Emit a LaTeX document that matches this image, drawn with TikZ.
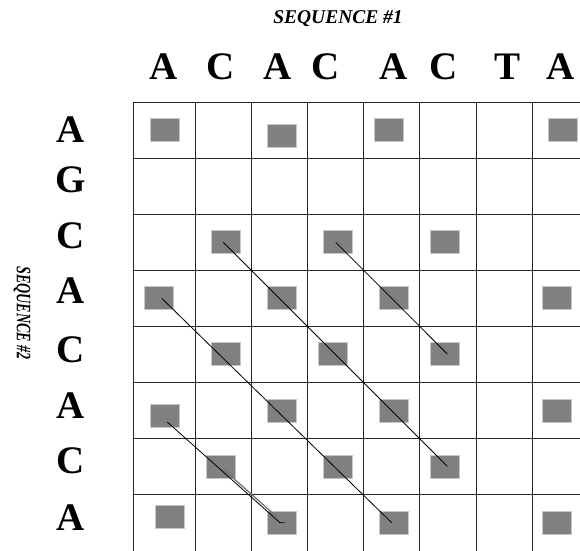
\documentclass[tikz,border=0pt]{standalone}
\usepackage{fontspec}
\setmainfont{Liberation Serif}
\begin{document}
\begin{tikzpicture}[x=1pt,y=-1pt,
  gridline/.style={draw=black!85,line width=1pt},
  hit/.style={fill=black!50,draw=black!22,line width=0.8pt,minimum width=29pt,minimum height=23pt,inner sep=0pt},
  base/.style={font=\fontsize{39}{39}\selectfont\bfseries,anchor=base,inner sep=0pt},
  trace/.style={draw=black,line width=0.8pt},
  title/.style={font=\fontsize{19.5}{20}\selectfont\bfseries\itshape,inner sep=0pt}]
\useasboundingbox (0,0) rectangle (580,550);
\clip (0,0) rectangle (580,550);
\fill[white] (0,0) rectangle (580,550);
% grid
\foreach \xx in {133,195,251,307,363,419,476,532,588}
  \draw[gridline] (\xx,102) -- (\xx,560);
\foreach \yy in {102,158,214,270,326,382,438,494,553}
  \draw[gridline] (133,\yy) -- (600,\yy);
% titles
\node[title,anchor=base] (s1) at (338,23) {SEQUENCE \#1};
\node[title,rotate=-90] (s2) at (22,313) {\scalebox{0.72}[1.05]{SEQUENCE \#2}};
% top sequence
\node[base] (t1) at (164,79) {A};
\node[base] (t2) at (221,79) {C};
\node[base] (t3) at (278,79) {A};
\node[base] (t4) at (326,79) {C};
\node[base] (t5) at (394,79) {A};
\node[base] (t6) at (444,79) {C};
\node[base] (t7) at (507,79) {T};
\node[base] (t8) at (561,79) {A};
% left sequence
\node[base] (l1) at (71,142) {A};
\node[base] (l2) at (71,192) {G};
\node[base] (l3) at (71,248) {C};
\node[base] (l4) at (71,303) {A};
\node[base] (l5) at (71,362) {C};
\node[base] (l6) at (71,418) {A};
\node[base] (l7) at (71,473) {C};
\node[base] (l8) at (71,530) {A};
% match squares
\node[hit] (m01) at (164.5,129.5) {};
\node[hit] (m03) at (282,135.5) {};
\node[hit] (m05) at (388.7,129.5) {};
\node[hit] (m08) at (562.8,130) {};
\node[hit] (m22) at (226,242) {};
\node[hit] (m24) at (338,242) {};
\node[hit] (m26) at (444.7,242) {};
\node[hit] (m31) at (158.7,298) {};
\node[hit] (m33) at (282,298) {};
\node[hit] (m35) at (394.3,298) {};
\node[hit] (m38) at (557.2,298.3) {};
\node[hit] (m42) at (226,354) {};
\node[hit] (m44) at (332.5,354) {};
\node[hit] (m46) at (444.7,354) {};
\node[hit] (m51) at (164.5,416) {};
\node[hit] (m53) at (282,410.5) {};
\node[hit] (m55) at (394.3,410.5) {};
\node[hit] (m58) at (557,410.5) {};
\node[hit] (m62) at (220.5,466.7) {};
\node[hit] (m64) at (338,466.7) {};
\node[hit] (m66) at (444.7,466.7) {};
\node[hit] (m71) at (169.5,516.5) {};
\node[hit] (m73) at (282,522.5) {};
\node[hit] (m75) at (394.3,522.5) {};
\node[hit] (m78) at (557,522.5) {};
% diagonal traces
\coordinate (a1) at (223.3,242.3);
\coordinate (a2) at (447.3,466.3);
\coordinate (b1) at (335.7,242.3);
\coordinate (b2) at (447.3,354);
\coordinate (c1) at (161.7,298.3);
\coordinate (c2) at (391.7,522.7);
\coordinate (d1) at (167.3,422);
\coordinate (d2) at (280,522.7);
\coordinate (d3) at (284.5,522.7);
\coordinate (e1) at (223,469);
\coordinate (e2) at (277,517);
\draw[trace] (a1) -- (a2);
\draw[trace] (b1) -- (b2);
\draw[trace] (c1) -- (c2);
\draw[draw=black!55,line width=1.3pt] (e1) -- (e2);
\draw[trace] (d1) -- (d2) -- (d3);
\end{tikzpicture}
\end{document}
